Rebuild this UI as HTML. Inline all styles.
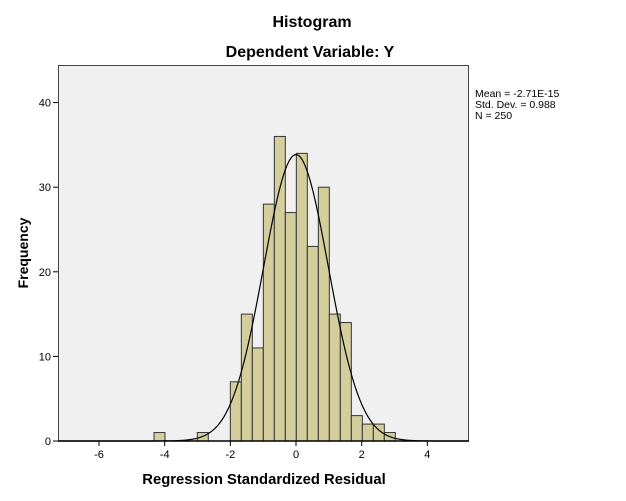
<!DOCTYPE html>
<html><head><style>
html,body{margin:0;padding:0;background:#fff;}
svg{display:block;font-family:"Liberation Sans",Arial,sans-serif;}
</style></head><body>
<svg id="s" width="626" height="501" viewBox="0 0 626 501">
<rect width="626" height="501" fill="#fff"/>
<text x="312" y="27" font-size="16" font-weight="bold" text-anchor="middle">Histogram</text>
<text x="310" y="57" font-size="16" font-weight="bold" text-anchor="middle">Dependent Variable: Y</text>
<rect x="58.5" y="65.5" width="410" height="375.5" fill="#f0f0f0" stroke="#444" stroke-width="1"/>
<g id="bars" fill="#d3ce9c" stroke="#333" stroke-width="1"></g>
<path id="curve" fill="none" stroke="#000" stroke-width="1.2"/>
<line x1="58" y1="441" x2="469" y2="441" stroke="#000" stroke-width="1.5"/>
<g id="ax" stroke="#000" stroke-width="1"></g>
<g id="lab" font-size="11" fill="#000"></g>
<text x="475" y="97" font-size="10.5">Mean = -2.71E-15</text>
<text x="475" y="108" font-size="10.5">Std. Dev. = 0.988</text>
<text x="475" y="119" font-size="10.5">N = 250</text>
<text transform="translate(28,253) rotate(-90)" font-size="14" font-weight="bold" text-anchor="middle">Frequency</text>
<text x="264" y="484" font-size="14.8" font-weight="bold" text-anchor="middle">Regression Standardized Residual</text>
</svg>
<script>
var NS="http://www.w3.org/2000/svg";
function el(t,a,p){var e=document.createElementNS(NS,t);for(var k in a)e.setAttribute(k,a[k]);document.getElementById(p).appendChild(e);return e;}
var y0=441,py=8.46,x0=296,px=32.83;
var counts=[7,15,11,28,36,27,34,23,30,15,14,3,2,2,1];
for(var i=0;i<counts.length;i++){var x=230.33+11*i,h=counts[i]*py;el("rect",{x:x,y:y0-h,width:11,height:h},"bars");}
el("rect",{x:154,y:y0-py,width:11,height:py},"bars");
el("rect",{x:197.3,y:y0-py,width:11,height:py},"bars");
var d="";for(var x=58;x<=469;x+=1){var z=(x-x0)/px;var y=y0-py*33.85*Math.exp(-z*z/(2*0.976));d+=(x==58?"M":"L")+x+","+y.toFixed(2);}
document.getElementById("curve").setAttribute("d",d);
[0,10,20,30,40].forEach(function(v){var y=y0-v*py;el("line",{x1:53,y1:y,x2:58,y2:y},"ax");var t=el("text",{x:51,y:y+4,"text-anchor":"end"},"lab");t.textContent=v;});
[-6,-4,-2,0,2,4].forEach(function(v){var x=x0+v*px;el("line",{x1:x,y1:441,x2:x,y2:446},"ax");var t=el("text",{x:x,y:458,"text-anchor":"middle"},"lab");t.textContent=v;});
</script>
</body></html>
